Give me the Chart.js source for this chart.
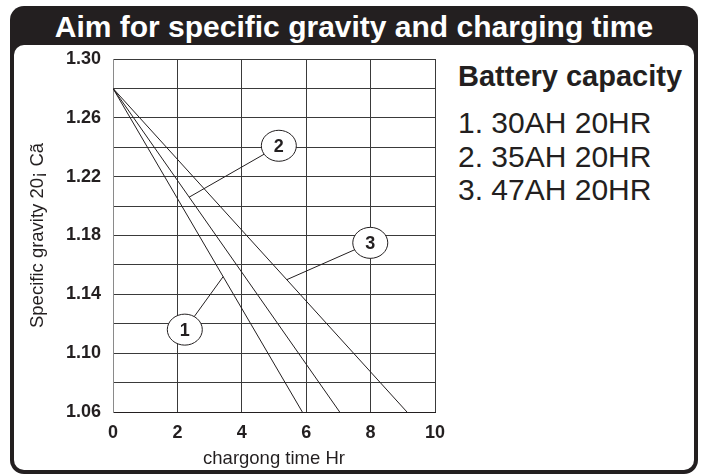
<!DOCTYPE html>
<html>
<head>
<meta charset="utf-8">
<script src="https://cdn.jsdelivr.net/npm/chart.js@4"></script>
<style>
  html, body { margin: 0; padding: 0; background: #fff; }
  body { width: 708px; height: 475px; position: relative; overflow: hidden; font-family: "Liberation Sans", Arial, sans-serif; color: #231f20; }
  .frame { position: absolute; left: 10px; top: 6px; width: 688px; height: 468px; background: #231f20; border-radius: 14px; }
  .inner { position: absolute; left: 14px; top: 45px; width: 680px; height: 425px; background: #fff; border-radius: 10px; }
  .title { position: absolute; left: 10px; top: 7px; width: 688px; height: 39px; color: #fff; font-weight: bold; font-size: 30px; line-height: 39px; text-align: center; white-space: nowrap; }
  .txt { position: absolute; left: 458px; white-space: nowrap; line-height: 1; }
  .head { font-weight: bold; font-size: 29px; top: 62px; }
  .item { font-size: 30px; }
  canvas { position: absolute; left: 0; top: 0; }
</style>
</head>
<body>
<div class="frame"></div>
<div class="inner"></div>
<div class="title">Aim for specific gravity and charging time</div>
<div class="txt head">Battery capacity</div>
<div class="txt item" style="top:108px">1. 30AH 20HR</div>
<div class="txt item" style="top:142px">2. 35AH 20HR</div>
<div class="txt item" style="top:175px">3. 47AH 20HR</div>
<canvas id="myChart" width="708" height="475"></canvas>
<script>
// each battery line runs from full charge down to 1.06
let time30AH = [0, 5.88];
let gravity30AH = [1.28, 1.06];
let time35AH = [0, 7.04];
let gravity35AH = [1.28, 1.06];
let time47AH = [0, 9.13];
let gravity47AH = [1.28, 1.06];

// numbered callouts and where their leader lines touch the curves
let calloutLabels = ["1", "2", "3"];
let calloutTime = [2.23, 5.15, 7.99];
let calloutGravity = [1.116, 1.241, 1.175];
let leaderTime = [3.42, 2.36, 5.40];
let leaderGravity = [1.152, 1.206, 1.150];

let ink = "#231f20";

function points(xs, ys) {
  return xs.map((v, i) => ({ x: v, y: ys[i] }));
}

let calloutPlugin = {
  id: "callouts",
  afterDatasetsDraw(chart) {
    let ctx = chart.ctx;
    let x = chart.scales.x, y = chart.scales.y;
    ctx.save();
    ctx.strokeStyle = ink;
    ctx.lineWidth = 1;
    calloutLabels.forEach((lab, i) => {
      let cx = x.getPixelForValue(calloutTime[i]);
      let cy = y.getPixelForValue(calloutGravity[i]);
      ctx.beginPath();
      ctx.moveTo(cx, cy);
      ctx.lineTo(x.getPixelForValue(leaderTime[i]), y.getPixelForValue(leaderGravity[i]));
      ctx.stroke();
      ctx.beginPath();
      ctx.ellipse(cx, cy, 17.5, 15.5, 0, 0, Math.PI * 2);
      ctx.fillStyle = "#fff";
      ctx.fill();
      ctx.stroke();
      ctx.fillStyle = ink;
      ctx.font = 'bold 18px "Liberation Sans"';
      ctx.textAlign = "center";
      ctx.textBaseline = "middle";
      ctx.fillText(lab, cx, cy + 1);
    });
    ctx.restore();
  },
};

let lineStyle = { borderColor: ink, borderWidth: 1, pointRadius: 0, fill: false, tension: 0 };

let myChart = document.getElementById("myChart").getContext("2d");
let gravityChart = new Chart(myChart, {
  type: "line",
  data: {
    datasets: [
      Object.assign({ label: "30AH", data: points(time30AH, gravity30AH) }, lineStyle),
      Object.assign({ label: "35AH", data: points(time35AH, gravity35AH) }, lineStyle),
      Object.assign({ label: "47AH", data: points(time47AH, gravity47AH) }, lineStyle),
    ],
  },
  options: {
    responsive: false,
    animation: false,
    layout: { padding: { left: 20, right: 273, top: 59, bottom: 0 } },
    plugins: { legend: { display: false }, tooltip: { enabled: false } },
    scales: {
      x: {
        type: "linear",
        min: 0,
        max: 10,
        afterFit: (s) => { s.height = 63; },
        ticks: { stepSize: 2, color: ink, padding: 10, font: { family: "Liberation Sans", size: 18, weight: "bold" } },
        grid: { color: "#3a3a3a", lineWidth: 1, drawTicks: false },
        border: { color: ink },
        title: { display: true, text: "chargong time Hr", color: ink, padding: { top: 0, bottom: 5 }, font: { family: "Liberation Sans", size: 18.5 } },
      },
      y: {
        type: "linear",
        min: 1.06,
        max: 1.3,
        afterFit: (s) => { s.width = 93; },
        ticks: {
          stepSize: 0.02,
          autoSkip: false,
          color: ink,
          padding: 12,
          font: { family: "Liberation Sans", size: 18, weight: "bold" },
          callback: (v) => (Math.round((v - 1.06) / 0.02) % 2 === 0 ? v.toFixed(2) : ""),
        },
        grid: { color: "#3a3a3a", lineWidth: 1, drawTicks: false },
        border: { color: "#8a8a8a" },
        title: { display: true, text: "Specific gravity 20¡ Cã", color: ink, padding: { top: 7, bottom: 0 }, font: { family: "Liberation Sans", size: 18.5 } },
      },
    },
  },
  plugins: [calloutPlugin],
});
</script>
</body>
</html>
